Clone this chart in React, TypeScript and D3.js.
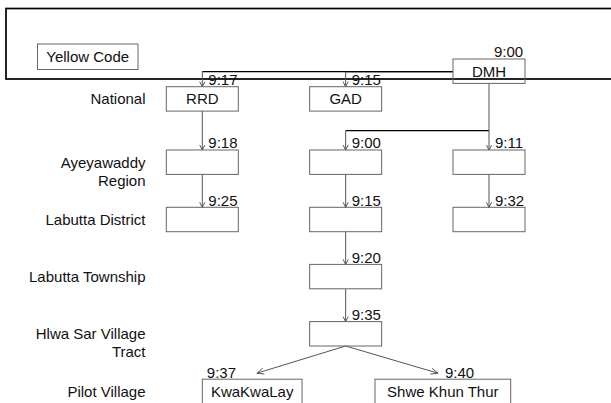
import React from "react";
import * as d3 from "d3";

// ---- data ----
const levelNames = ["National", "Ayeyawaddy|Region", "Labutta District", "Labutta Township", "Hlwa Sar Village|Tract", "Pilot Village"];
const nodeIds = ["DMH", "RRD", "GAD", "R1", "G1", "D1", "R2", "G2", "D2", "G3", "G4", "KWA", "SKT"];
const nodeLabels = ["DMH", "RRD", "GAD", "", "", "", "", "", "", "", "", "KwaKwaLay", "Shwe Khun Thur"];
const nodeLevels = [-1, 0, 0, 1, 1, 1, 2, 2, 2, 3, 4, 5, 5];
const nodeCols = [2, 0, 1, 0, 1, 2, 0, 1, 2, 1, 1, 0.348, 1.678];
const nodeTimes = ["9:00", "9:17", "9:15", "9:18", "9:00", "9:11", "9:25", "9:15", "9:32", "9:20", "9:35", "9:37", "9:40"];
const edgeFrom = ["DMH", "DMH", "DMH", "DMH", "RRD", "R1", "G1", "G2", "G3", "D1", "G4", "G4"];
const edgeTo = ["RRD", "GAD", "G1", "D1", "R1", "R2", "G2", "G3", "G4", "D2", "KWA", "SKT"];
const legendLabel = "Yellow Code";

// ---- layout ----
const W = 611, H = 403;
const FONT = "'Liberation Sans', Arial, Helvetica, sans-serif";
const FS = 15;
const BOX_H = 24.4;
const wideBoxW: Record<string, number> = { KWA: 99.7, SKT: 135.7 };

const xCol = d3.scaleLinear().domain([0, 2]).range([202.3, 489]);
const yLevel = d3.scaleOrdinal<number, number>()
  .domain([-1, 0, 1, 2, 3, 4, 5])
  .range([59, 86.7, 150, 207.3, 264.4, 321.6, 379.2]);

type Node = { id: string; label: string; level: number; cx: number; top: number; w: number; time: string };
const nodes: Node[] = nodeIds.map((id, i) => ({
  id,
  label: nodeLabels[i],
  level: nodeLevels[i],
  cx: xCol(nodeCols[i]),
  top: yLevel(nodeLevels[i]),
  w: wideBoxW[id] ?? 72,
  time: nodeTimes[i],
}));
const byId = new Map(nodes.map((n) => [n.id, n]));

function arrowHead(tx: number, ty: number, dx: number, dy: number, len = 5, hw = 2.6) {
  const L = Math.hypot(dx, dy);
  const ux = dx / L, uy = dy / L;
  const px = -uy, py = ux;
  const bx = tx - ux * len, by = ty - uy * len;
  return `M${bx + px * hw},${by + py * hw}L${tx},${ty}L${bx - px * hw},${by - py * hw}`;
}

export default function App() {
  const grey = "#555";
  const dark = "#000";
  const busLines: JSX.Element[] = [];
  const arrows: JSX.Element[] = [];

  edgeFrom.forEach((f, i) => {
    const s = byId.get(f)!;
    const t = byId.get(edgeTo[i])!;
    const key = `e${i}`;
    if (s.id === "DMH" && t.level === 0) {
      const y = s.top + BOX_H / 2 + 0.5;
      busLines.push(<line key={key + "b"} x1={s.cx - s.w / 2} y1={y} x2={t.cx} y2={y} stroke={dark} strokeWidth={1.2} />);
      arrows.push(
        <g key={key}>
          <line x1={t.cx} y1={y} x2={t.cx} y2={t.top} stroke={grey} strokeWidth={1} />
          <path d={arrowHead(t.cx, t.top, 0, 1)} fill="none" stroke={grey} strokeWidth={1} />
        </g>
      );
    } else if (Math.abs(s.cx - t.cx) < 0.5) {
      arrows.push(
        <g key={key}>
          <line x1={t.cx} y1={s.top + BOX_H} x2={t.cx} y2={t.top} stroke={grey} strokeWidth={1} />
          <path d={arrowHead(t.cx, t.top, 0, 1)} fill="none" stroke={grey} strokeWidth={1} />
        </g>
      );
    } else if (t.level < 5) {
      const y = t.top - 19.3;
      busLines.push(<line key={key + "b"} x1={s.cx} y1={y} x2={t.cx} y2={y} stroke={dark} strokeWidth={1.2} />);
      arrows.push(
        <g key={key}>
          <line x1={t.cx} y1={y} x2={t.cx} y2={t.top} stroke={grey} strokeWidth={1} />
          <path d={arrowHead(t.cx, t.top, 0, 1)} fill="none" stroke={grey} strokeWidth={1} />
        </g>
      );
    } else {
      const sx = s.cx, sy = s.top + BOX_H;
      const tx = t.cx + (sx - t.cx) * 0.05, ty = t.top - 6;
      arrows.push(
        <g key={key}>
          <line x1={sx} y1={sy} x2={tx} y2={ty} stroke={grey} strokeWidth={1} />
          <path d={arrowHead(tx, ty, tx - sx, ty - sy, 7, 3)} fill="none" stroke={grey} strokeWidth={1} />
        </g>
      );
    }
  });

  return (
    <svg width={W} height={H} style={{ position: "absolute", left: 0, top: 0, background: "#fff" }} fontFamily={FONT}>
      <rect x={0} y={0} width={W} height={H} fill="#fff" />
      {/* outer band */}
      <rect x={6} y={8.5} width={700} height={70.5} fill="none" stroke="#000" strokeWidth={1.7} />
      {/* legend box */}
      <rect x={37.5} y={44} width={100.5} height={25.5} fill="none" stroke="#666" strokeWidth={1} />
      <text x={87.7} y={62.3} fontSize={FS} textAnchor="middle" fill="#111">{legendLabel}</text>

      {/* level labels */}
      {levelNames.map((name, i) => {
        const cy = yLevel(i) + BOX_H / 2;
        return name.split("|").map((line, j) => (
          <text key={`l${i}-${j}`} x={145.5} y={cy + 5.4 + j * 18} fontSize={FS} textAnchor="end" fill="#111">
            {line}
          </text>
        ));
      })}

      {busLines}
      {arrows}

      {/* boxes */}
      {nodes.map((n) => (
        <g key={n.id}>
          <rect x={n.cx - n.w / 2} y={n.top} width={n.w} height={BOX_H} fill="none" stroke="#666" strokeWidth={1} />
          {n.label && (
            <text x={n.cx} y={n.top + BOX_H / 2 + 5.4} fontSize={FS} textAnchor="middle" fill="#111">
              {n.label}
            </text>
          )}
        </g>
      ))}

      {/* times */}
      {nodes.map((n) => {
        let x = n.cx + 6;
        if (n.id === "DMH") x = n.cx + 5;
        if (n.id === "KWA") x = n.cx - n.w / 2 + 4.5;
        if (n.id === "SKT") x = n.cx - n.w / 2 + 70;
        return (
          <text key={"t" + n.id} x={x} y={n.top - 1.6} fontSize={FS} fill="#111">
            {n.time}
          </text>
        );
      })}
    </svg>
  );
}
